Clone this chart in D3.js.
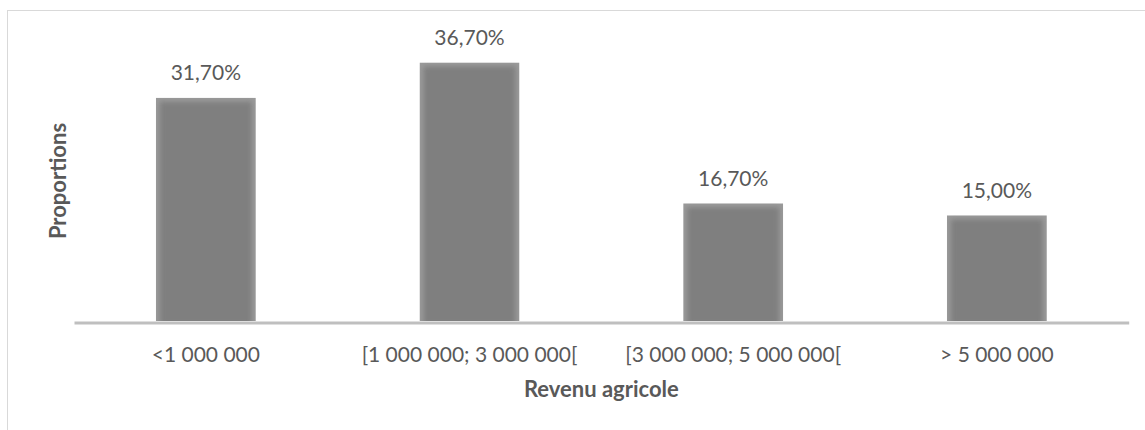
<!DOCTYPE html>
<html>
<head>
<meta charset="utf-8">
<script src="https://cdn.jsdelivr.net/npm/d3@7"></script>
<style>
  html, body { margin: 0; padding: 0; background: #fff; }
  svg { display: block; }
  text { font-family: Lato, "Open Sans", sans-serif; fill: #595959; }
</style>
</head>
<body>
<svg id="chart" width="1145" height="430"></svg>
<script>
// Revenue brackets and share of farms in each
const categories = ["<1 000 000", "[1 000 000; 3 000 000[", "[3 000 000; 5 000 000[", "> 5 000 000"];
const proportions = [31.7, 36.7, 16.7, 15.0];
const valueLabels = ["31,70%", "36,70%", "16,70%", "15,00%"];
const xTitle = "Revenu agricole";
const yTitle = "Proportions";

const svg = d3.select("#chart");
const W = 1145, H = 430;

// chart frame (open at right and bottom edges of the window)
svg.append("rect")
  .attr("x", 7.5).attr("y", 10.5)
  .attr("width", W + 20).attr("height", H + 20)
  .attr("fill", "#fff").attr("stroke", "#d9d9d9").attr("stroke-width", 1);

const plot = { left: 74, right: 1128.7, base: 321, top: 39.2 };

const gap = 0.6208;
const x = d3.scaleBand()
  .domain(categories)
  .range([plot.left, plot.right])
  .paddingInner(gap)
  .paddingOuter(gap / 2);

const y = d3.scaleLinear()
  .domain([0, 40])
  .range([plot.base, plot.top]);

// soft inner shading of the bars
const defs = svg.append("defs");
const f = defs.append("filter").attr("id", "soft")
  .attr("x", "-10%").attr("y", "-10%").attr("width", "120%").attr("height", "120%");
f.append("feGaussianBlur").attr("stdDeviation", 2.5);
const clip = defs.selectAll("clipPath").data(proportions).join("clipPath")
  .attr("id", (d, i) => "clip" + i);
clip.append("rect")
  .attr("x", (d, i) => x(categories[i]))
  .attr("y", d => y(d))
  .attr("width", x.bandwidth())
  .attr("height", d => y(0) - y(d));

const bars = svg.append("g").selectAll("g").data(proportions).join("g")
  .attr("clip-path", (d, i) => `url(#clip${i})`);
bars.append("rect")
  .attr("x", (d, i) => x(categories[i]))
  .attr("y", d => y(d))
  .attr("width", x.bandwidth())
  .attr("height", d => y(0) - y(d))
  .attr("fill", "#9a9a9a");
bars.append("rect")
  .attr("x", (d, i) => x(categories[i]) + 4)
  .attr("y", d => y(d) + 4)
  .attr("width", x.bandwidth() - 8)
  .attr("height", d => y(0) - y(d))
  .attr("fill", "#7f7f7f")
  .attr("filter", "url(#soft)");

// category axis
const xAxis = d3.axisBottom(x).tickSize(0).tickPadding(0);
const gx = svg.append("g").attr("transform", `translate(0,${plot.base})`).call(xAxis);
gx.select(".domain")
  .attr("stroke", "#bfbfbf").attr("stroke-width", 3)
  .attr("transform", "translate(0,1.5)");
gx.selectAll(".tick text")
  .attr("y", 40.7).attr("dy", null)
  .style("font-size", "21px").style("fill", "#595959")
  .attr("font-family", "Lato, 'Open Sans', sans-serif");

// value labels
svg.append("g").selectAll("text").data(proportions).join("text")
  .attr("x", (d, i) => x(categories[i]) + x.bandwidth() / 2)
  .attr("y", d => y(d) - 17.7)
  .attr("text-anchor", "middle")
  .style("font-size", "21px")
  .text((d, i) => valueLabels[i]);

// axis titles
svg.append("text")
  .attr("x", (plot.left + plot.right) / 2).attr("y", 397)
  .attr("text-anchor", "middle")
  .style("font-size", "22px").style("font-weight", "bold")
  .text(xTitle);

svg.append("text")
  .attr("transform", `translate(66,181) rotate(-90)`)
  .attr("text-anchor", "middle")
  .style("font-size", "22px").style("font-weight", "bold")
  .text(yTitle);
</script>
</body>
</html>
